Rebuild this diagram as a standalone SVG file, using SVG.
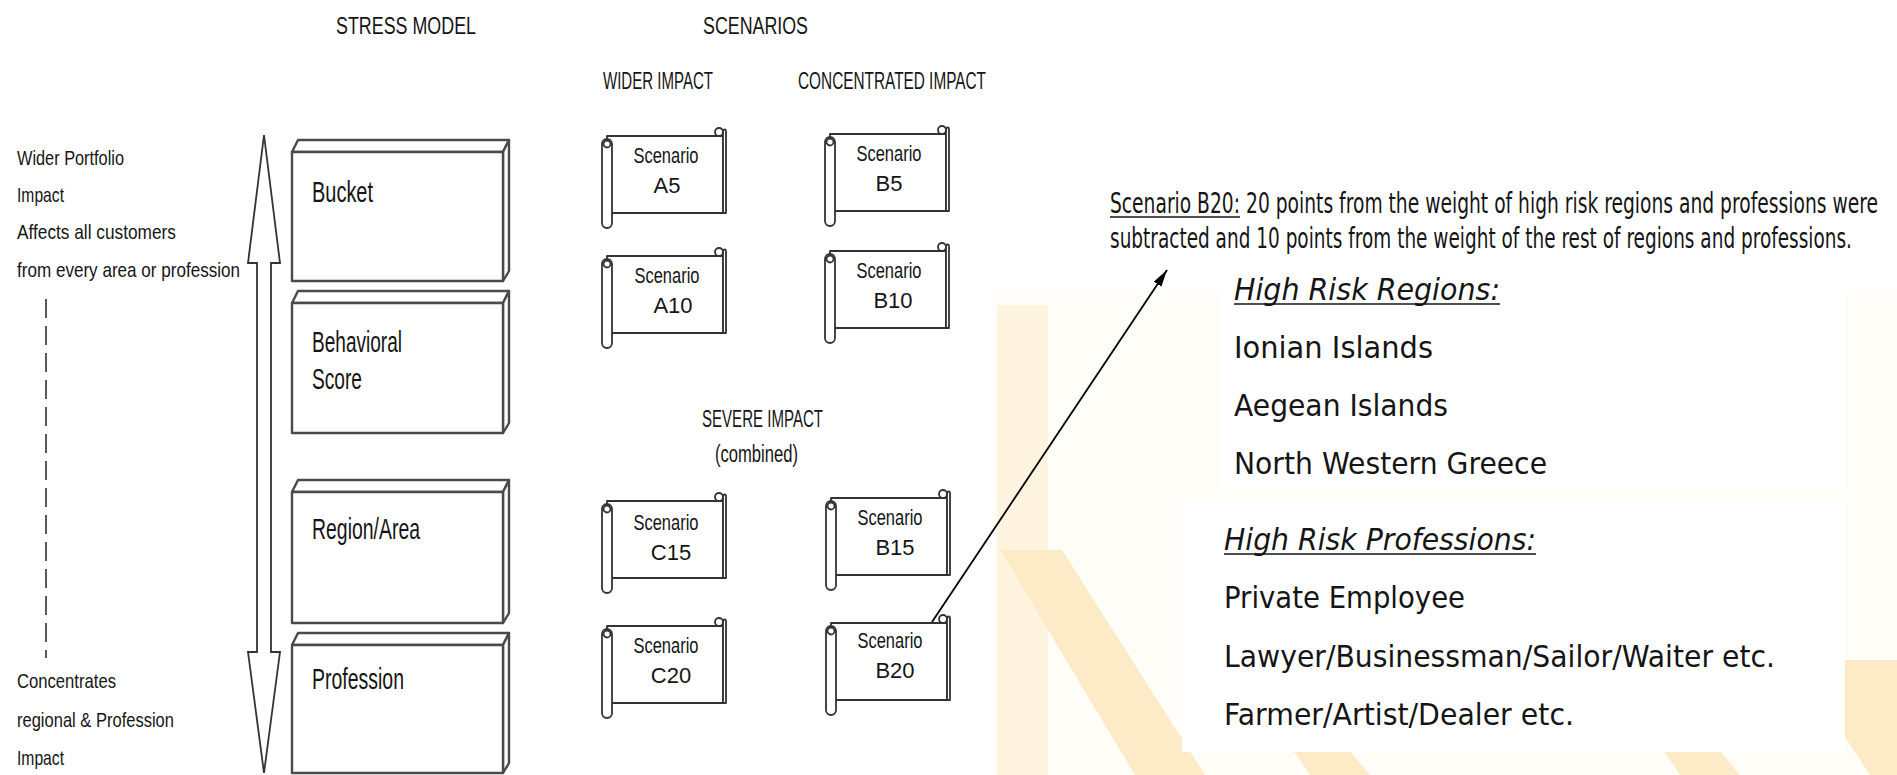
<svg xmlns="http://www.w3.org/2000/svg" xmlns:xlink="http://www.w3.org/1999/xlink" width="1897" height="775" viewBox="0 0 1897 775">
<defs>
<style>
.t{font-family:"Liberation Sans",Arial,sans-serif;fill:#151515}
.hd{font-size:23px}
.lf{font-size:21px}
.bx{font-size:30px}
.sc{font-size:22px;text-anchor:middle}
.r{font-family:"DejaVu Sans",Verdana,sans-serif;fill:#151515;font-size:30px}
.rt{font-family:"DejaVu Sans",Verdana,sans-serif;fill:#151515;font-size:17px}
.it{font-style:italic}
.box{fill:#fff;stroke:#4a4a4a;stroke-width:2.4;stroke-linejoin:round}
.scr{fill:#fff;stroke:#333;stroke-width:1.8;stroke-linejoin:round}
.ul{stroke:#151515;stroke-width:1.6}
.st1{fill:#fdebc8}
.st2{fill:#fff4df}
</style>
<marker id="ah" markerWidth="18" markerHeight="10" refX="17" refY="4.5" orient="auto" markerUnits="userSpaceOnUse">
<path d="M0,0 L17,4.5 L0,9 z" fill="#000"/>
</marker>
<g id="scroll">
<rect class="scr" x="6" y="11" width="116" height="77"/>
<path class="scr" d="M122,88 V6 A1.5,1.5 0 0 1 125,6 V88 Z"/>
<circle class="scr" cx="118" cy="7" r="4"/>
<rect class="scr" x="1" y="14" width="10" height="89" rx="5"/>
<circle class="scr" cx="6" cy="19" r="3.5"/>
</g>
</defs>

<g id="background">
<rect x="0" y="0" width="1897" height="775" fill="#fff"/>
<rect x="990" y="290" width="907" height="485" fill="#fffdf8"/>
<polygon class="st2" points="997,305 1048,305 1048,775 997,775"/>
<polygon class="st1" points="1000,550 1062,550 1205,775 1135,775"/>
<polygon class="st1" points="1795,660 1897,660 1897,775 1870,775"/>
<polygon class="st1" points="1290,745 1345,745 1370,775 1310,775"/>
<polygon class="st1" points="1660,745 1715,745 1740,775 1680,775"/>
<rect x="1220" y="252" width="625" height="236" fill="#fff"/>
<rect x="1182" y="500" width="663" height="252" fill="#fff"/>
</g>

<g id="headings">
<text class="t hd" x="336" y="34" textLength="140" lengthAdjust="spacingAndGlyphs">STRESS MODEL</text>
<text class="t hd" x="703" y="34" textLength="105" lengthAdjust="spacingAndGlyphs">SCENARIOS</text>
<text class="t hd" x="603" y="89" textLength="110" lengthAdjust="spacingAndGlyphs">WIDER IMPACT</text>
<text class="t hd" x="798" y="89" textLength="188" lengthAdjust="spacingAndGlyphs">CONCENTRATED IMPACT</text>
<text class="t hd" x="702" y="427" textLength="121" lengthAdjust="spacingAndGlyphs">SEVERE IMPACT</text>
<text class="t hd" x="715" y="462" textLength="83" lengthAdjust="spacingAndGlyphs">(combined)</text>
</g>

<g id="axis-labels">
<text class="t lf" x="17" y="165" textLength="107" lengthAdjust="spacingAndGlyphs">Wider Portfolio</text>
<text class="t lf" x="17" y="202" textLength="47" lengthAdjust="spacingAndGlyphs">Impact</text>
<text class="t lf" x="17" y="239" textLength="159" lengthAdjust="spacingAndGlyphs">Affects all customers</text>
<text class="t lf" x="17" y="277" textLength="223" lengthAdjust="spacingAndGlyphs">from every area or profession</text>
<line x1="46" y1="299" x2="46" y2="658" stroke="#222" stroke-width="1.5" stroke-dasharray="19 8"/>
<text class="t lf" x="17" y="688" textLength="99" lengthAdjust="spacingAndGlyphs">Concentrates</text>
<text class="t lf" x="17" y="727" textLength="157" lengthAdjust="spacingAndGlyphs">regional &amp; Profession</text>
<text class="t lf" x="17" y="765" textLength="47" lengthAdjust="spacingAndGlyphs">Impact</text>
</g>

<g id="double-arrow">
<polygon points="264,135 280,263 271,263 271,652 280,652 264,773 248,652 257,652 257,263 248,263" fill="#fff" stroke="#333" stroke-width="1.8" stroke-linejoin="miter"/>
</g>

<g id="box-bucket">
<polygon class="box" points="292,152 298,140 509,140 503,152"/>
<polygon class="box" points="503,152 509,140 509,271 503,281"/>
<rect class="box" x="292" y="152" width="211" height="129"/>
<text class="t bx" x="312" y="202" textLength="61" lengthAdjust="spacingAndGlyphs">Bucket</text>
</g>
<g id="box-behavioral">
<polygon class="box" points="292,303 298,291 509,291 503,303"/>
<polygon class="box" points="503,303 509,291 509,423 503,433"/>
<rect class="box" x="292" y="303" width="211" height="130"/>
<text class="t bx" x="312" y="352" textLength="90" lengthAdjust="spacingAndGlyphs">Behavioral</text>
<text class="t bx" x="312" y="389" textLength="50" lengthAdjust="spacingAndGlyphs">Score</text>
</g>
<g id="box-region">
<polygon class="box" points="292,492 298,480 509,480 503,492"/>
<polygon class="box" points="503,492 509,480 509,613 503,623"/>
<rect class="box" x="292" y="492" width="211" height="131"/>
<text class="t bx" x="312" y="539" textLength="108" lengthAdjust="spacingAndGlyphs">Region/Area</text>
</g>
<g id="box-profession">
<polygon class="box" points="292,645 298,633 509,633 503,645"/>
<polygon class="box" points="503,645 509,633 509,763 503,773"/>
<rect class="box" x="292" y="645" width="211" height="128"/>
<text class="t bx" x="312" y="689" textLength="92" lengthAdjust="spacingAndGlyphs">Profession</text>
</g>

<g id="scenario-a5">
<use xlink:href="#scroll" href="#scroll" x="601" y="125"/>
<text class="t sc" x="666" y="163" textLength="65" lengthAdjust="spacingAndGlyphs">Scenario</text>
<text class="t sc" x="667" y="193">A5</text>
</g>
<g id="scenario-a10">
<use xlink:href="#scroll" href="#scroll" x="601" y="245"/>
<text class="t sc" x="667" y="283" textLength="65" lengthAdjust="spacingAndGlyphs">Scenario</text>
<text class="t sc" x="673" y="313">A10</text>
</g>
<g id="scenario-b5">
<use xlink:href="#scroll" href="#scroll" x="824" y="123"/>
<text class="t sc" x="889" y="161" textLength="65" lengthAdjust="spacingAndGlyphs">Scenario</text>
<text class="t sc" x="889" y="191">B5</text>
</g>
<g id="scenario-b10">
<use xlink:href="#scroll" href="#scroll" x="824" y="240"/>
<text class="t sc" x="889" y="278" textLength="65" lengthAdjust="spacingAndGlyphs">Scenario</text>
<text class="t sc" x="893" y="308">B10</text>
</g>
<g id="scenario-c15">
<use xlink:href="#scroll" href="#scroll" x="601" y="490"/>
<text class="t sc" x="666" y="530" textLength="65" lengthAdjust="spacingAndGlyphs">Scenario</text>
<text class="t sc" x="671" y="560">C15</text>
</g>
<g id="scenario-c20">
<use xlink:href="#scroll" href="#scroll" x="601" y="615"/>
<text class="t sc" x="666" y="653" textLength="65" lengthAdjust="spacingAndGlyphs">Scenario</text>
<text class="t sc" x="671" y="683">C20</text>
</g>
<g id="scenario-b15">
<use xlink:href="#scroll" href="#scroll" x="825" y="487"/>
<text class="t sc" x="890" y="525" textLength="65" lengthAdjust="spacingAndGlyphs">Scenario</text>
<text class="t sc" x="895" y="555">B15</text>
</g>
<g id="scenario-b20">
<use xlink:href="#scroll" href="#scroll" x="825" y="612"/>
<text class="t sc" x="890" y="648" textLength="65" lengthAdjust="spacingAndGlyphs">Scenario</text>
<text class="t sc" x="895" y="678">B20</text>
</g>

<g id="connectors">
<line x1="932" y1="622" x2="1167" y2="270" stroke="#000" stroke-width="1.8" marker-end="url(#ah)"/>
</g>

<g id="b20-description">
<text class="rt" transform="translate(1110,213) scale(1,1.65)" textLength="130" lengthAdjust="spacingAndGlyphs">Scenario B20:</text>
<line class="ul" x1="1110" y1="217" x2="1240" y2="217"/>
<text class="rt" transform="translate(1246,213) scale(1,1.65)" textLength="632" lengthAdjust="spacingAndGlyphs">20 points from the weight of high risk regions and professions were</text>
<text class="rt" transform="translate(1110,248) scale(1,1.65)" textLength="742" lengthAdjust="spacingAndGlyphs">subtracted and 10 points from the weight of the rest of regions and professions.</text>
<text class="r it" x="1234" y="300" textLength="266" lengthAdjust="spacingAndGlyphs">High Risk Regions:</text>
<line class="ul" x1="1234" y1="304" x2="1500" y2="304"/>
<text class="r" x="1234" y="358" textLength="199" lengthAdjust="spacingAndGlyphs">Ionian Islands</text>
<text class="r" x="1234" y="416" textLength="214" lengthAdjust="spacingAndGlyphs">Aegean Islands</text>
<text class="r" x="1234" y="474" textLength="313" lengthAdjust="spacingAndGlyphs">North Western Greece</text>
<text class="r it" x="1224" y="550" textLength="312" lengthAdjust="spacingAndGlyphs">High Risk Professions:</text>
<line class="ul" x1="1224" y1="554" x2="1536" y2="554"/>
<text class="r" x="1224" y="608" textLength="241" lengthAdjust="spacingAndGlyphs">Private Employee</text>
<text class="r" x="1224" y="667" textLength="551" lengthAdjust="spacingAndGlyphs">Lawyer/Businessman/Sailor/Waiter etc.</text>
<text class="r" x="1224" y="725" textLength="350" lengthAdjust="spacingAndGlyphs">Farmer/Artist/Dealer etc.</text>
</g>
</svg>
